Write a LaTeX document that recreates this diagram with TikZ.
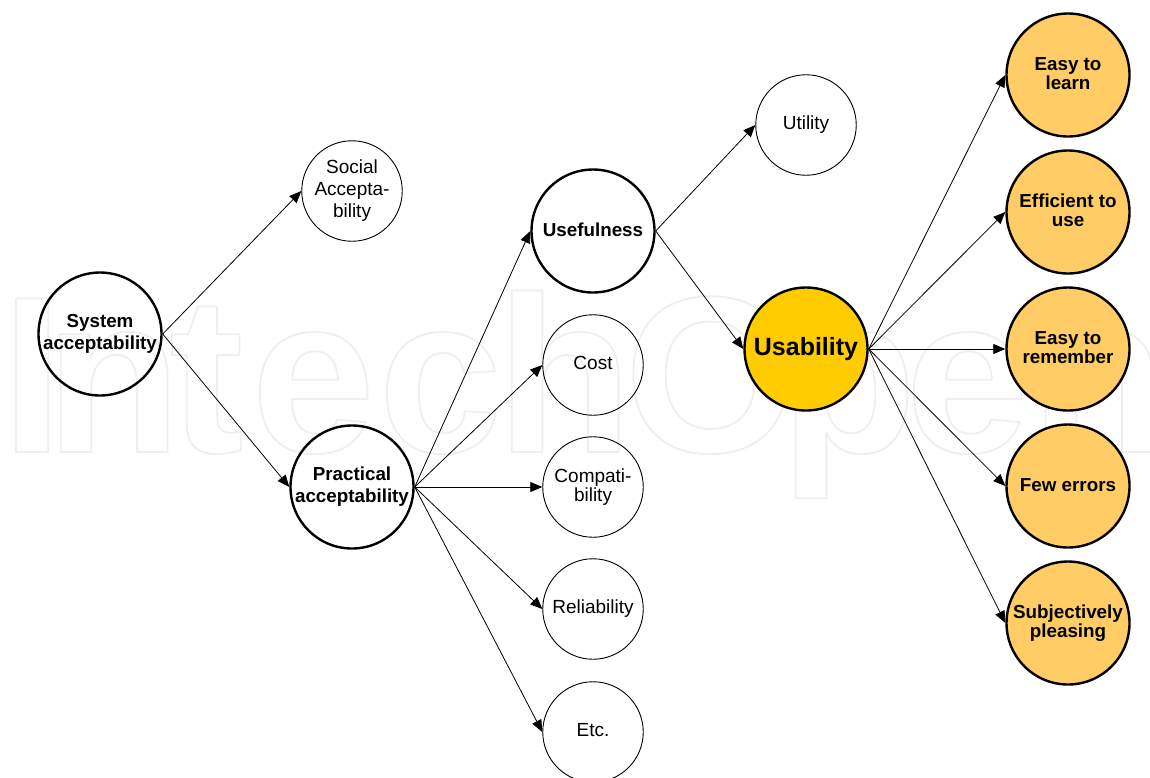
\documentclass[tikz,border=0pt]{standalone}
\usepackage{fontspec}
\setmainfont{Liberation Sans}
\usetikzlibrary{arrows.meta}
\definecolor{gold}{HTML}{FFCC00}
\definecolor{peach}{HTML}{FFCC66}
\newcommand{\fbig}{\fontsize{18.8}{22}\selectfont\bfseries}
\newcommand{\fsmall}{\fontsize{19}{22}\selectfont}
\newcommand{\fcomp}{\fontsize{19}{19}\selectfont}
\newcommand{\fleaf}{\fontsize{18.8}{19}\selectfont\bfseries}
\newcommand{\fcore}{\fontsize{25}{28}\selectfont\bfseries}
\newcommand{\wmletter}[1]{\special{pdf:code q 1 Tr 1 j 1.8 w 0.937 0.937 0.937 RG}\fontsize{223}{223}\selectfont\bfseries #1\special{pdf:code Q}}
\tikzset{
  x=1pt,y=-1pt,
  big/.style={circle,draw=black,line width=2.4pt,minimum size=123pt,inner sep=0pt},
  small/.style={circle,draw=black,line width=0.9pt,minimum size=100.5pt,inner sep=0pt},
  core/.style={big,fill=gold},
  leaf/.style={big,fill=peach},
  lab/.style n args={3}{label={[align=center,inner sep=0pt,font=#1,yshift=#2pt]center:{#3}}},
  conn/.style={draw=black,line width=0.8pt,-{Triangle[length=12pt,width=10pt]}},
}
\begin{document}
\begin{tikzpicture}
\useasboundingbox (0,0) rectangle (1150,777);
\begin{scope}
\clip (0,0) rectangle (1150,777);
\foreach \c/\p in {I/1,n/45,t/169,e/251,c/378,h/496,O/624,p/780,e/905,n/1030}
  \node[anchor=base west,inner sep=0pt] (wm\p) at (\p,452) {\wmletter{\c}};
\end{scope}
\node[big,lab={\fbig}{0.5}{System\\acceptability}] (sys) at (100,334) {};
\node[small,lab={\fsmall}{0}{Social\\Accepta-\\bility}] (soc) at (352,191) {};
\node[big,lab={\fbig}{0.5}{Practical\\acceptability}] (pra) at (352,487) {};
\node[big,lab={\fbig}{1}{Usefulness}] (use) at (593,231) {};
\node[small,lab={\fsmall}{2}{Cost}] (cost) at (593,365) {};
\node[small,lab={\fcomp}{0}{Compati-\\bility}] (comp) at (593,487) {};
\node[small,lab={\fsmall}{0}{Reliability}] (rel) at (593,609) {};
\node[small,lab={\fsmall}{2}{Etc.}] (etc) at (593,732) {};
\node[small,lab={\fsmall}{0.5}{Utility}] (uti) at (806,125) {};
\node[core,lab={\fcore}{0}{Usability}] (usa) at (806,349) {};
\node[leaf,lab={\fleaf}{1}{Easy to\\learn}] (l1) at (1068,75) {};
\node[leaf,lab={\fleaf}{2}{Efficient to\\use}] (l2) at (1068,212) {};
\node[leaf,lab={\fleaf}{1}{Easy to\\remember}] (l3) at (1068,349) {};
\node[leaf,lab={\fleaf}{1}{Few errors}] (l4) at (1068,486) {};
\node[leaf,lab={\fleaf}{-0.5}{Subjectively\\pleasing}] (l5) at (1068,623) {};
\foreach \a/\b in {sys/soc,sys/pra,pra/use,pra/cost,pra/comp,pra/rel,pra/etc,use/uti,use/usa,usa/l1,usa/l2,usa/l3,usa/l4,usa/l5}
  \draw[conn] (\a.east) -- (\b.west);
\end{tikzpicture}
\end{document}
